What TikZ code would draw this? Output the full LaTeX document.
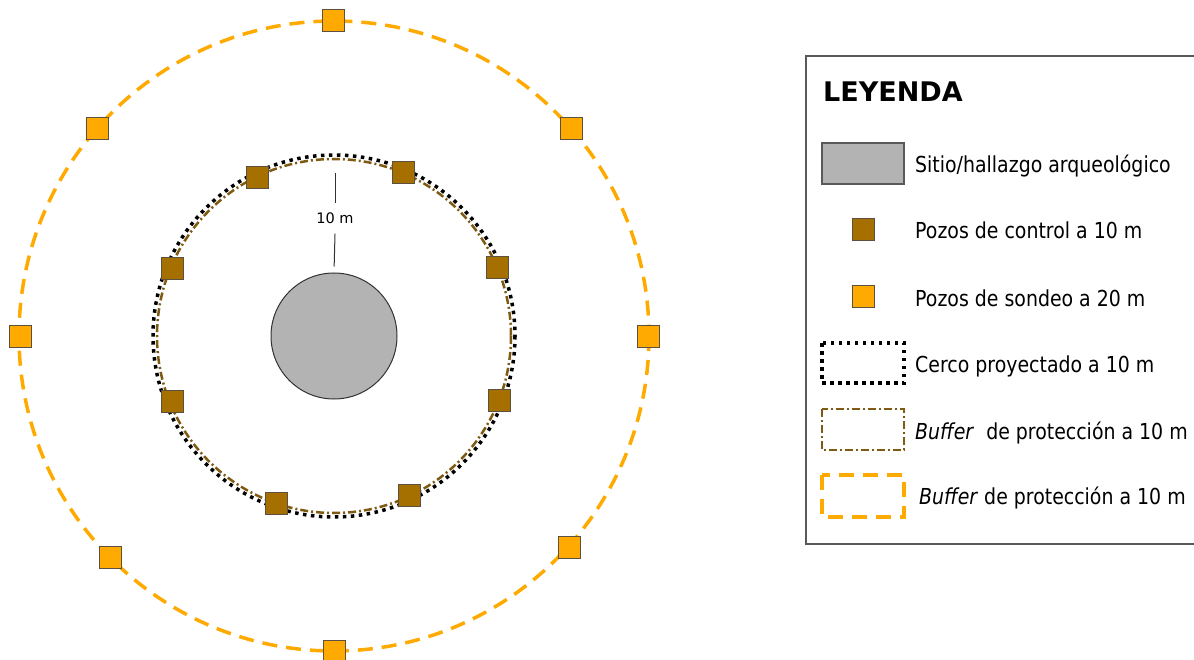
\documentclass[tikz,border=0pt]{standalone}
\usepackage{fontspec}
\setmainfont{DejaVu Sans}
\newfontfamily\leyfont{DejaVu Sans}[FakeStretch=0.86]
\definecolor{ocre}{HTML}{A67000}
\definecolor{naranja}{HTML}{FFAA00}
\definecolor{cafe}{HTML}{7F5A12}
\definecolor{grissitio}{HTML}{B3B3B3}
\definecolor{borde}{HTML}{5C5040}
\tikzset{
  pozoctrl/.style={draw=borde, line width=1pt, fill=ocre, minimum size=22pt, inner sep=0pt},
  pozosond/.style={draw=borde, line width=1pt, fill=naranja, minimum size=22pt, inner sep=0pt},
  cerco/.style={draw=black, line width=3.5pt, dash pattern=on 3.5pt off 4.5pt},
  buffdiez/.style={draw=cafe, line width=2.5pt, dash pattern=on 8pt off 3pt on 2pt off 3pt},
  buffveinte/.style={draw=naranja, line width=3.5pt, dash pattern=on 15pt off 9pt},
  leytxt/.style={anchor=base west, inner sep=0pt, font=\leyfont\fontsize{22}{26}\selectfont}
}
\begin{document}
\begin{tikzpicture}[x=1pt, y=-1pt]
\useasboundingbox (0,0) rectangle (1194,660);
\clip (0,0) rectangle (1194,660);
% buffers y cerco
\draw[buffveinte] (334,336) circle (315);
\draw[cerco] (334,336) circle (181);
\draw[buffdiez] (334,336) circle (177);
% sitio
\node[circle, draw=black!80, line width=1pt, fill=grissitio, minimum size=126pt, inner sep=0pt] (sitio) at (334,336) {};
\coordinate (cima) at (335,173);
\node[font=\fontsize{14.5}{16}\selectfont, text height=11pt, text depth=0pt, inner xsep=0pt, inner ysep=9.5pt] (cota) at (335,218.5) {10 m};
\draw[black!80, line width=1pt] (cima) -- (cota.north);
\draw[black!80, line width=1pt, shorten >=6pt] (cota.south) -- (sitio.north);
% pozos
\foreach \x/\y [count=\i] in {257/177.5, 403/172.5, 172/268.5, 497/267.5, 172/401.5, 499/400.5, 276.5/503, 409/495.5}
  \node[pozoctrl] (ctrl\i) at (\x,\y) {};
\foreach \x/\y [count=\i] in {333.5/21, 571/128.5, 648/336.5, 569/547.5, 334/651.5, 110.5/557.5, 20/336.5, 97.5/128.5}
  \node[pozosond] (sond\i) at (\x,\y) {};
% leyenda
\draw[black!65, line width=1.5pt] (1200,56) -- (806,56) -- (806,544) -- (1200,544);
\node[anchor=base west, inner sep=0pt, font=\bfseries\fontsize{27}{31}\selectfont] (titulo) at (823,102) {LEYENDA};
\draw[black!65, line width=1.5pt, fill=grissitio] (822,143) rectangle (904,184);
\node[leytxt] (ley1) at (915,173) {Sitio/hallazgo arqueológico};
\node[pozoctrl] (leyctrl) at (863,230) {};
\node[leytxt] (ley2) at (915,239) {Pozos de control a 10 m};
\node[pozosond] (leysond) at (863,297) {};
\node[leytxt] (ley3) at (915,306) {Pozos de sondeo a 20 m};
\draw[cerco] (822,343) rectangle (904,383);
\node[leytxt] (ley4) at (915,372) {Cerco proyectado a 10 m};
\draw[buffdiez] (822,409) rectangle (904,450);
\node[leytxt] (ley5) at (915,439) {\textit{Buffer}\ \ de protección a 10 m};
\draw[buffveinte] (822,475) rectangle (904,517);
\node[leytxt] (ley6) at (919,504) {\textit{Buffer} de protección a 10 m};
\end{tikzpicture}
\end{document}
